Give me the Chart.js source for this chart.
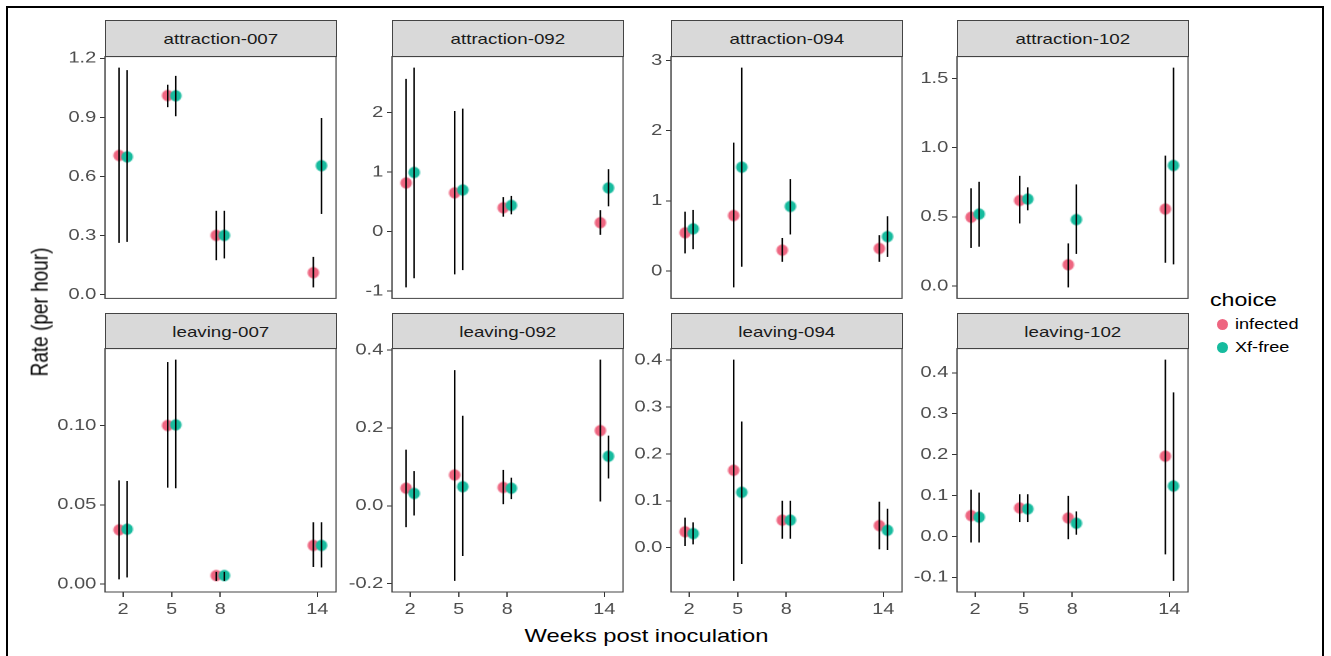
<!DOCTYPE html>
<html>
<head>
<meta charset="utf-8">
<script src="https://cdn.jsdelivr.net/npm/chart.js@4.4.1/dist/chart.umd.min.js"></script>
<style>
  html, body { margin: 0; padding: 0; background: #fff; width: 1331px; height: 656px; overflow: hidden;
    font-family: "Liberation Sans", Arial, sans-serif; }
  #frame { position: absolute; left: 6px; top: 6px; width: 1314px; height: 720px; border: 2px solid #000; }
  .wrap { position: absolute; transform-origin: 0 0; }
  .strip { position: absolute; background: #D9D9D9; border: 1px solid #444; box-sizing: border-box;
    display: flex; align-items: center; justify-content: center; font-size: 15px; color: #1a1a1a; }
  .sx { display: inline-block; transform-origin: 50% 50%; white-space: nowrap; }
  .title { position: absolute; color: #000; white-space: nowrap; }
  .legdot { position: absolute; width: 11px; height: 11px; border-radius: 50%; }
</style>
</head>
<body>
<div id="frame"></div>
<script>
// Facets, weeks and estimates (rate per hour) with interval bounds
const weeks = [2, 5, 8, 14];
const panelNames = ['attraction-007', 'attraction-092', 'attraction-094', 'attraction-102',
                    'leaving-007', 'leaving-092', 'leaving-094', 'leaving-102'];
const seriesNames = ['infected', 'Xf-free'];

const infectedRate = [
  [0.707, 1.011, 0.301, 0.112],
  [0.818, 0.652, 0.40, 0.15],
  [0.544, 0.79, 0.296, 0.32],
  [0.497, 0.618, 0.154, 0.556],
  [0.0342, 0.100, 0.0054, 0.0244],
  [0.045, 0.079, 0.047, 0.193],
  [0.034, 0.165, 0.0587, 0.047],
  [0.0508, 0.0694, 0.045, 0.196]
];
const infectedLow = [
  [0.263, 0.952, 0.175, 0.037],
  [-0.94, -0.72, 0.25, -0.055],
  [0.25, -0.235, 0.13, 0.13],
  [0.275, 0.452, -0.01, 0.168],
  [0.003, 0.0608, 0.002, 0.0108],
  [-0.055, -0.193, 0.004, 0.011],
  [0.0035, -0.071, 0.019, -0.0035],
  [-0.015, 0.035, -0.007, -0.044]
];
const infectedHigh = [
  [1.153, 1.066, 0.426, 0.192],
  [2.57, 2.03, 0.58, 0.36],
  [0.845, 1.83, 0.47, 0.51],
  [0.706, 0.796, 0.308, 0.942],
  [0.0654, 0.14, 0.0077, 0.039],
  [0.144, 0.348, 0.092, 0.375],
  [0.064, 0.401, 0.1, 0.098],
  [0.114, 0.103, 0.099, 0.432]
];
const freeRate = [
  [0.70, 1.01, 0.301, 0.655],
  [0.995, 0.70, 0.44, 0.735],
  [0.60, 1.48, 0.92, 0.49],
  [0.52, 0.628, 0.48, 0.871],
  [0.0346, 0.1004, 0.0054, 0.0244],
  [0.0315, 0.049, 0.045, 0.127],
  [0.030, 0.118, 0.0587, 0.037],
  [0.047, 0.067, 0.032, 0.123]
];
const freeLow = [
  [0.268, 0.906, 0.184, 0.41],
  [-0.786, -0.65, 0.29, 0.425],
  [0.31, 0.06, 0.52, 0.20],
  [0.284, 0.547, 0.232, 0.156],
  [0.0042, 0.0604, 0.002, 0.0105],
  [-0.025, -0.129, 0.017, 0.07],
  [0.007, -0.035, 0.019, -0.005],
  [-0.015, 0.035, 0.004, -0.109]
];
const freeHigh = [
  [1.14, 1.111, 0.426, 0.897],
  [2.76, 2.07, 0.60, 1.05],
  [0.87, 2.90, 1.31, 0.78],
  [0.753, 0.713, 0.734, 1.578],
  [0.065, 0.1415, 0.0077, 0.039],
  [0.089, 0.231, 0.072, 0.18],
  [0.054, 0.269, 0.1, 0.083],
  [0.107, 0.103, 0.061, 0.352]
];
const yTicks = [
  [0, 0.3, 0.6, 0.9, 1.2],
  [-1, 0, 1, 2],
  [0, 1, 2, 3],
  [0, 0.5, 1.0, 1.5],
  [0, 0.05, 0.10],
  [-0.2, 0, 0.2, 0.4],
  [0, 0.1, 0.2, 0.3, 0.4],
  [-0.1, 0, 0.1, 0.2, 0.3, 0.4]
];
const yDecimals = [1, 0, 0, 1, 2, 1, 1, 1];

// Styling and panel geometry
const FONT = '"Liberation Sans", Arial, sans-serif';
const COLORS = ['#EE6580', '#16BB9E'];
const DODGE = 0.25;
const SX = 1.25;            // horizontal text stretch
const colLeft = [105, 392, 671, 957];
const plotW = 231;
const rowTop = [56, 348];
const stripTop = [20, 313];
const plotH = [243, 244];
const YW = 48, PT = 12, CW = 241;
const rowAxisH = [12, 32];  // only the bottom row carries week labels
const PWL = plotW / SX;

Chart.defaults.font.family = FONT;

function dotImage(color) {
  const c = document.createElement('canvas');
  c.width = 14; c.height = 14;
  const g = c.getContext('2d');
  g.fillStyle = color;
  g.beginPath();
  g.ellipse(7, 7, 5.8 / SX, 5.8, 0, 0, Math.PI * 2);
  g.fill();
  return c;
}
const dots = COLORS.map(dotImage);

function yRange(k) {
  const all = infectedLow[k].concat(infectedHigh[k], freeLow[k], freeHigh[k]);
  const lo = Math.min(...all), hi = Math.max(...all);
  const pad = (hi - lo) * 0.05;
  return [lo - pad, hi + pad];
}

function makePanel(k) {
  const r = Math.floor(k / 4), c = k % 4;
  const h = plotH[r];
  const XH = rowAxisH[r];
  const showX = r === 1;
  const ch = PT + h + XH;

  const strip = document.createElement('div');
  strip.className = 'strip';
  strip.style.left = colLeft[c] + 'px';
  strip.style.top = stripTop[r] + 'px';
  strip.style.width = (plotW + 1) + 'px';
  strip.style.height = (rowTop[r] - stripTop[r] + 1) + 'px';
  strip.innerHTML = '<span class="sx" style="transform:scaleX(' + SX + ')">' + panelNames[k] + '</span>';
  document.body.appendChild(strip);

  const wrap = document.createElement('div');
  wrap.className = 'wrap';
  wrap.style.left = (colLeft[c] - YW * SX) + 'px';
  wrap.style.top = (rowTop[r] - PT) + 'px';
  wrap.style.transform = 'scaleX(' + SX + ')';
  const cv = document.createElement('canvas');
  cv.width = CW; cv.height = ch;
  wrap.appendChild(cv);
  document.body.appendChild(wrap);

  const rates = [infectedRate[k], freeRate[k]];
  const lows = [infectedLow[k], freeLow[k]];
  const highs = [infectedHigh[k], freeHigh[k]];
  const shifts = [-DODGE, DODGE];
  const [ymin, ymax] = yRange(k);

  const panelBox = {
    id: 'panelBox',
    beforeDatasetsDraw(chart) {
      const a = chart.chartArea, ctx = chart.ctx;
      ctx.save();
      ctx.strokeStyle = '#444';
      ctx.lineWidth = 1;
      ctx.strokeRect(a.left, a.top, a.right - a.left, a.bottom - a.top);
      ctx.restore();
    }
  };
  const errorBars = {
    id: 'errorBars',
    afterDatasetsDraw(chart) {
      const ctx = chart.ctx, xs = chart.scales.x, ys = chart.scales.y;
      ctx.save();
      ctx.strokeStyle = '#000';
      ctx.lineWidth = 1.25;
      for (let s = 0; s < 2; s++) {
        weeks.forEach((w, j) => {
          const px = xs.getPixelForValue(w + shifts[s]);
          ctx.beginPath();
          ctx.moveTo(px, ys.getPixelForValue(lows[s][j]));
          ctx.lineTo(px, ys.getPixelForValue(highs[s][j]));
          ctx.stroke();
        });
      }
      ctx.restore();
    }
  };

  new Chart(cv, {
    type: 'scatter',
    data: {
      datasets: [0, 1].map(s => ({
        label: seriesNames[s],
        data: weeks.map((w, j) => ({ x: w + shifts[s], y: rates[s][j] })),
        pointStyle: dots[s],
        pointRadius: 5,
        order: 1 - s
      }))
    },
    options: {
      responsive: false,
      maintainAspectRatio: false,
      devicePixelRatio: 2,
      animation: false,
      events: [],
      layout: { padding: { top: PT, right: CW - YW - PWL, left: 0, bottom: 0 } },
      plugins: { legend: { display: false }, tooltip: { enabled: false } },
      scales: {
        x: {
          type: 'linear', min: 0.88, max: 15.15,
          afterBuildTicks: s => { s.ticks = weeks.map(v => ({ value: v })); },
          afterFit: s => { s.height = XH; },
          grid: { drawOnChartArea: false, drawTicks: showX, tickLength: 5, color: '#333' },
          border: { display: false },
          ticks: { display: showX, font: { size: 16 }, color: '#4D4D4D', padding: 3, maxRotation: 0,
                   autoSkip: false, callback: v => String(v) }
        },
        y: {
          type: 'linear', min: ymin, max: ymax,
          afterBuildTicks: s => { s.ticks = yTicks[k].map(v => ({ value: v })); },
          afterFit: s => { s.width = YW; },
          grid: { drawOnChartArea: false, drawTicks: true, tickLength: 4, color: '#333' },
          border: { display: false },
          ticks: { font: { size: 16 }, color: '#4D4D4D', padding: 3, autoSkip: false,
                   callback: v => Number(v).toFixed(yDecimals[k]) }
        }
      }
    },
    plugins: [panelBox, errorBars]
  });
}

for (let k = 0; k < panelNames.length; k++) makePanel(k);

// Axis titles
function addText(txt, x, y, size, rotate) {
  const d = document.createElement('div');
  d.className = 'title';
  d.style.fontSize = size + 'px';
  d.textContent = txt;
  document.body.appendChild(d);
  const w = d.offsetWidth, h = d.offsetHeight;
  d.style.left = (x - w / 2) + 'px';
  d.style.top = (y - h / 2) + 'px';
  d.style.transform = 'scaleX(' + SX + ')' + (rotate ? ' rotate(-90deg)' : '');
  return d;
}
addText('Weeks post inoculation', 646, 636, 19, false);
addText('Rate (per hour)', 40, 312, 19, true);

// Legend
function addLeftText(txt, x, y, size) {
  const d = document.createElement('div');
  d.className = 'title';
  d.style.fontSize = size + 'px';
  d.style.transformOrigin = '0 50%';
  d.style.transform = 'scaleX(' + SX + ')';
  d.textContent = txt;
  document.body.appendChild(d);
  d.style.left = x + 'px';
  d.style.top = (y - d.offsetHeight / 2) + 'px';
}
addLeftText('choice', 1210, 300, 18.5);
const legendY = [324, 347];
seriesNames.forEach((name, s) => {
  const dot = document.createElement('div');
  dot.className = 'legdot';
  dot.style.background = COLORS[s];
  dot.style.left = (1222 - 5.5) + 'px';
  dot.style.top = (legendY[s] - 5.5) + 'px';
  document.body.appendChild(dot);
  addLeftText(name, 1235, legendY[s], 14.5);
});
</script>
</body>
</html>
